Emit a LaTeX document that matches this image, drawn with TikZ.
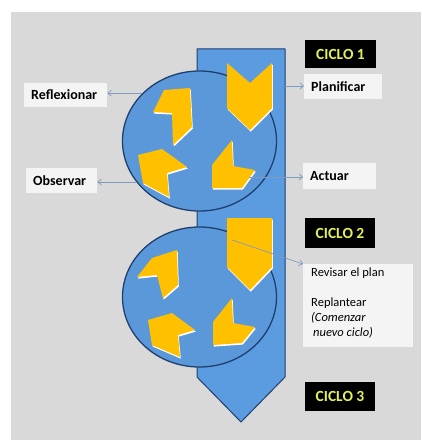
\documentclass[tikz,border=0pt]{standalone}
\usepackage{fontspec}
\setmainfont{Carlito}
\usetikzlibrary{shapes.geometric,arrows.meta}
\definecolor{bg}{HTML}{D9D9D9}
\definecolor{bandblue}{HTML}{5B9BE0}
\definecolor{ellblue}{HTML}{5A98DA}
\definecolor{darkblue}{HTML}{1F3F6F}
\definecolor{chev}{HTML}{FFC000}
\definecolor{lblbg}{HTML}{F4F4F4}
\definecolor{ciclo}{HTML}{E4EE5A}
\definecolor{conn}{HTML}{7F9CC0}
\tikzset{
  band/.style={fill=bandblue, draw=darkblue, line width=1pt, line join=round},
  ell/.style={ellipse, draw=darkblue, line width=1.3pt, fill=ellblue, minimum width=154pt, minimum height=140pt, inner sep=0pt},
  chevfill/.style={fill=chev},
  chevglow/.style={fill=white, shift={(0.8,1.6)}},
  conn/.style={draw=conn, line width=0.7pt, -{Straight Barb[length=3.5pt,width=6pt]}},
  lbl/.style={fill=lblbg, anchor=west, inner xsep=7pt, inner ysep=0pt, align=left, font=\fontsize{14}{16}\selectfont\bfseries},
  ciclobox/.style={fill=black, text=ciclo, inner sep=0pt, font=\fontsize{15.5}{17}\selectfont\bfseries}
}
\newcommand\mychev[1]{\fill[chevglow] #1 -- cycle; \fill[chevfill] #1 -- cycle;}
\begin{document}
\begin{tikzpicture}[x=1pt,y=-1pt]
\useasboundingbox (0,0) rectangle (421,444);
\fill[white] (0,0) rectangle (421,444);
\fill[bg] (11,12) rectangle (421,440);
% band arrow
\draw[band] (197,49) -- (285,49) -- (285,377) -- (241,422) -- (197,377) -- cycle;
% circles
\node[ell] (c1) at (199.5,141) {};
\node[ell] (c2) at (199.5,297) {};
% chevrons cycle 1
\mychev{(164,90) -- (190,88) -- (192,127) -- (173,145) -- (172,113) -- (153,112)}
\mychev{(227,63) -- (250,83) -- (272,63) -- (272,108) -- (250,130) -- (227,108)}
\mychev{(138,155) -- (162,149) -- (187,167) -- (167,173) -- (169,197) -- (143,183)}
\mychev{(232,140) -- (233,166) -- (255,170) -- (242,188) -- (212,188) -- (212,165)}
% chevrons cycle 2
\mychev{(152,258) -- (177,250) -- (178,285) -- (163,298) -- (157,275) -- (137,277)}
\mychev{(227,218) -- (272,218) -- (272,267) -- (250,290) -- (227,267)}
\mychev{(148,320) -- (172,313) -- (195,330) -- (178,335) -- (180,357) -- (152,345)}
\mychev{(232,298) -- (233,323) -- (255,327) -- (242,343) -- (213,345) -- (213,322)}
% labels
\node[lbl, text width=69pt, minimum height=24pt] (refl) at (24,95) {Reflexionar};
\node[lbl, text width=64pt, minimum height=25pt] (plan) at (304,86.5) {Planificar};
\node[lbl, text width=57pt, minimum height=25pt] (obs) at (26,180.5) {Observar};
\node[lbl, text width=59pt, minimum height=26pt] (act) at (303,176) {Actuar};
\node[fill=lblbg, minimum width=110pt, minimum height=83pt, anchor=north west, inner sep=0pt] (rev) at (303,264) {};
\node[font=\fontsize{12.5}{15}\selectfont, align=left, anchor=north west, inner sep=0pt] (revtxt) at (311,268) {Revisar el plan\\[15pt]Replantear\\\textit{(Comenzar}\\\textit{\hspace{2pt}nuevo ciclo)}};
% cycle boxes
\node[ciclobox, minimum width=71pt, minimum height=28pt] (k1) at (340.5,54) {CICLO 1};
\node[ciclobox, minimum width=70pt, minimum height=30pt] (k2) at (340,233) {CICLO 2};
\node[ciclobox, minimum width=70pt, minimum height=29pt] (k3) at (340,396.5) {CICLO 3};
% connectors
\coordinate (p1) at (285,86);
\coordinate (a1) at (249,177);
\coordinate (r1) at (232,240);
\draw[conn] (c1.140) -- (c1.140 -| refl.east);
\draw[conn] (c1.213) -- (c1.213 -| obs.east);
\draw[conn] (p1) -- (p1 -| plan.west);
\draw[conn] (a1) -- (a1 -| act.west);
\draw[conn] (r1) -- (rev.north west);
\end{tikzpicture}
\end{document}
